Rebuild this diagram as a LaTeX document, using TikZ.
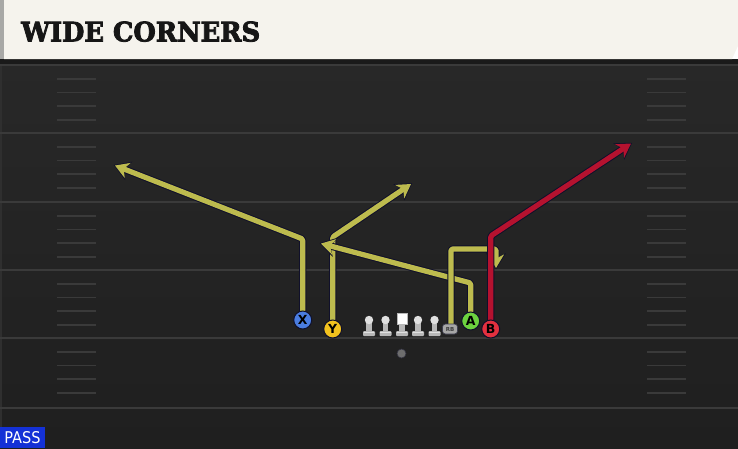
\documentclass[tikz,border=0pt]{standalone}
\usepackage{fontspec}
\setmainfont{DejaVu Sans}
\newfontfamily\titlefont[FakeBold=3]{DejaVu Serif Bold}
\newfontfamily\passfont{DejaVu Sans Condensed}
\usetikzlibrary{arrows.meta}
\definecolor{fieldtop}{HTML}{282828}
\definecolor{fieldbot}{HTML}{1F1F1F}
\definecolor{bandc}{HTML}{1A1A1A}
\definecolor{linec}{HTML}{3A3A3A}
\definecolor{hashc}{HTML}{3A3A3A}
\definecolor{headc}{HTML}{F5F3ED}
\definecolor{stripc}{HTML}{A8A8A6}
\definecolor{titlec}{HTML}{161616}
\definecolor{outl}{HTML}{10102A}
\definecolor{routey}{HTML}{BDBB4E}
\definecolor{router}{HTML}{B5122F}
\definecolor{passblue}{HTML}{1431D6}
\definecolor{xblue}{HTML}{4A7DE0}
\definecolor{yyellow}{HTML}{F2C21E}
\definecolor{agreen}{HTML}{6CD23F}
\definecolor{bred}{HTML}{E2303F}
\definecolor{lmlight}{HTML}{E0E0E0}
\definecolor{lmshade}{HTML}{B8B8B8}
\definecolor{rbgray}{HTML}{A6A6A6}
\definecolor{rbtext}{HTML}{3C3C3C}
\definecolor{qbgray}{HTML}{6E6E6E}
\pgfdeclarelayer{back}
\pgfdeclarelayer{routes}
\pgfsetlayers{back,routes,main}
\tikzset{
  routeout/.style={draw=outl, line width=7.2pt, line join=round, line cap=round, rounded corners=1.5pt,
    shorten >=-1.4pt, -{Stealth[length=16pt,width=19.5pt,inset=5pt]}},
  routein/.style={line width=5.2pt, line join=round, line cap=round, rounded corners=1.5pt,
    -{Stealth[length=13.5pt,width=16pt,inset=4.2pt]}},
  player/.style={circle, draw=outl, line width=1pt, minimum size=18pt, inner sep=0pt,
    font=\bfseries\fontsize{12.5}{12.5}\selectfont, text=black},
  hashmark/.style={draw=hashc, line width=1.8pt},
  yardline/.style={draw=linec, line width=2pt},
  lineman/.pic={
    \fill[lmshade] (-2.7,0) rectangle (2.7,12.5);
    \fill[lmshade, rounded corners=1pt] (-6,11) rectangle (6,16.2);
    \fill[lmlight] (-5.4,11.6) rectangle (5.4,13.4);
    \fill[lmlight] (0,0) circle (4.2);
  },
  centerman/.pic={
    \fill[lmshade] (-2.7,0) rectangle (2.7,12.5);
    \fill[lmshade, rounded corners=1pt] (-6,11) rectangle (6,16.2);
    \fill[lmlight] (-5.4,11.6) rectangle (5.4,13.4);
    \fill[white, draw=lmshade, line width=0.6pt] (-5,-6.5) rectangle (5,4.5);
  }
}
\begin{document}
\begin{tikzpicture}[x=1pt,y=-1pt]
\useasboundingbox (0,0) rectangle (738,448);
\begin{pgfonlayer}{back}
  % field
  \shade[top color=fieldtop, bottom color=fieldbot] (0,59) rectangle (738,448);
  \fill[fieldtop!60!linec] (0,59) rectangle (1.6,448);
  \fill[bandc] (0,59) rectangle (738,64);
  % yard lines
  \foreach \yy in {65,133,202,270,338,408} {
    \draw[yardline] (0,\yy) -- (738,\yy);
  }
  % hash marks
  \foreach \yy in {65,133,202,270,338} {
    \foreach \k in {1,2,3,4} {
      \draw[hashmark] (57,\yy+13.7*\k) -- (96,\yy+13.7*\k);
      \draw[hashmark] (647,\yy+13.7*\k) -- (686,\yy+13.7*\k);
    }
  }
  % header
  \fill[headc] (4,0) -- (738,0) -- (738,46) -- (732,59) -- (4,59) -- cycle;
  \fill[stripc] (0,0) rectangle (4,59);
\end{pgfonlayer}

\node[anchor=south west, inner sep=0pt, text=titlec] (title) at (21,42)
  {\resizebox{239pt}{20pt}{\titlefont WIDE CORNERS}};

% offensive line
\pic at (369,320) {lineman};
\pic at (385.5,320) {lineman};
\pic at (402,320) {centerman};
\pic at (418,320) {lineman};
\pic at (434.5,320) {lineman};

% players
\node[player, fill=xblue] (X) at (302.7,320) {X};
\node[player, fill=yyellow] (Y) at (332.7,329) {Y};
\node[player, fill=agreen] (A) at (470.7,321) {A};
\node[player, fill=bred] (B) at (490.7,329) {B};
\node[rectangle, rounded corners=3pt, fill=rbgray, draw=outl!70!rbgray, line width=0.6pt,
      minimum width=15pt, minimum height=10pt, inner sep=0pt, text=rbtext,
      font=\bfseries\fontsize{5.5}{5.5}\selectfont] (RB) at (450,329) {RB};
\node[circle, fill=qbgray, draw=outl!60!qbgray, line width=0.6pt, minimum size=9pt, inner sep=0pt] (QB) at (401.5,353.5) {};

% route points
\coordinate (xc) at (302.7,239);
\coordinate (xe) at (115,165.5);
\coordinate (yc) at (332.7,237);
\coordinate (ye) at (411,184);
\coordinate (ac) at (470.7,283);
\coordinate (ae) at (321,243.5);
\coordinate (rb1) at (451,249);
\coordinate (rb2) at (496,249);
\coordinate (rbe) at (496,268);
\coordinate (bc) at (490.7,236);
\coordinate (be) at (631,143.5);

\begin{pgfonlayer}{routes}
  \draw[routeout] (X.north) -- (xc) -- (xe);
  \draw[routein, draw=routey] (X.north) -- (xc) -- (xe);
  \draw[routeout] (Y.north) -- (yc) -- (ye);
  \draw[routein, draw=routey] (Y.north) -- (yc) -- (ye);
  \draw[routeout] (A.north) -- (ac) -- (ae);
  \draw[routein, draw=routey] (A.north) -- (ac) -- (ae);
  \draw[routeout] (RB.north -| rb1) -- (rb1) -- (rb2) -- (rbe);
  \draw[routein, draw=routey] (RB.north -| rb1) -- (rb1) -- (rb2) -- (rbe);
  \draw[routeout] (B.north) -- (bc) -- (be);
  \draw[routein, draw=router] (B.north) -- (bc) -- (be);
\end{pgfonlayer}

\node[fill=passblue, minimum width=45pt, minimum height=21pt, inner sep=0pt, text=white]
  (pass) at (22.5,437.5) {\resizebox{36pt}{12pt}{\passfont PASS}};
\end{tikzpicture}
\end{document}
